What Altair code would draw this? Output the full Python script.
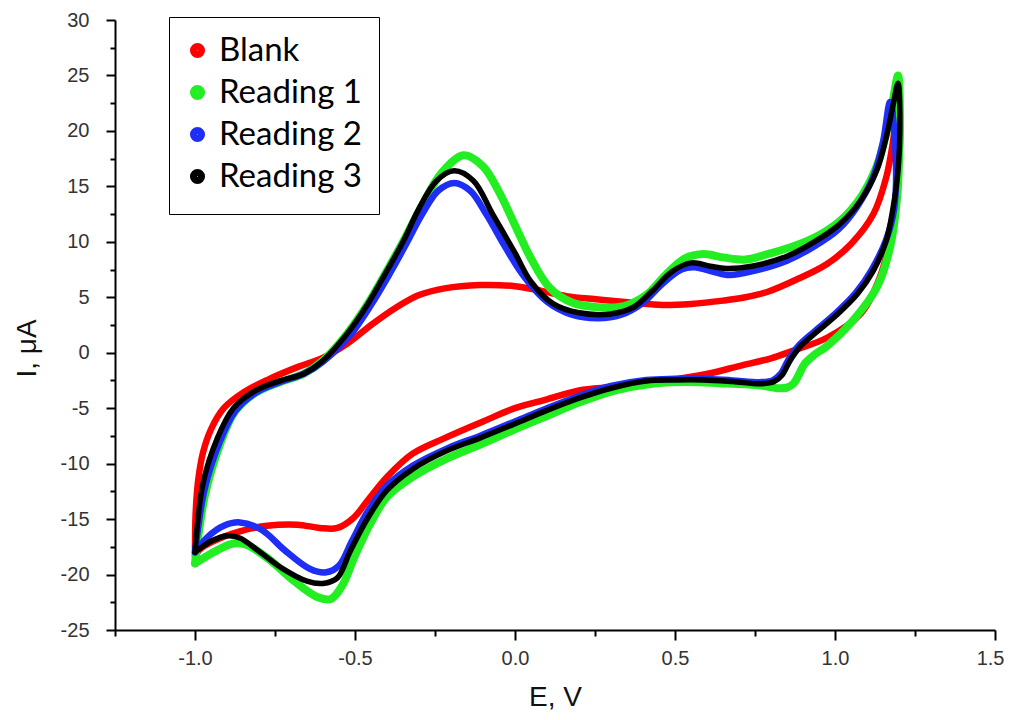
import altair as alt
import pandas as pd

# ---------------- data ----------------
SERIES = ["Blank", "Reading 1", "Reading 2", "Reading 3"]

E_BLANK = [-1.00, -0.998, -0.99, -0.975, -0.95, -0.91, -0.85, -0.77, -0.68, -0.60,
           -0.525, -0.445, -0.37, -0.30, -0.22, -0.11, 0.00, 0.08, 0.16, 0.26,
           0.37, 0.46, 0.55, 0.65, 0.72, 0.79, 0.88, 0.975, 1.05, 1.12,
           1.16, 1.18, 1.195, 1.20,
           1.203, 1.195, 1.18, 1.14, 1.08, 0.975, 0.87, 0.80, 0.70, 0.61,
           0.50, 0.41, 0.30, 0.20, 0.10, 0.00, -0.10, -0.22, -0.32, -0.40,
           -0.46, -0.505, -0.555, -0.61, -0.68, -0.775, -0.86, -0.92, -0.98, -1.00]
I_BLANK = [-18.3, -14.5, -11.5, -9.0, -6.9, -5.0, -3.6, -2.4, -1.3, -0.45,
           0.8, 2.6, 4.1, 5.2, 5.8, 6.1, 6.0, 5.6, 5.1, 4.8,
           4.5, 4.3, 4.4, 4.7, 5.0, 5.5, 6.6, 8.0, 9.8, 12.5,
           15.8, 18.8, 22.5, 23.6,
           19.0, 15.0, 11.3, 6.8, 3.5, 1.35, 0.2, -0.5, -1.2, -1.85,
           -2.4, -2.8, -3.1, -3.4, -4.2, -5.0, -6.2, -7.7, -9.1, -11.2,
           -13.3, -14.9, -15.8, -15.8, -15.5, -15.6, -16.1, -16.7, -17.6, -18.3]

E_R1 = [-1.00, -0.97, -0.925, -0.875, -0.81, -0.73, -0.66, -0.60, -0.525, -0.46,
        -0.40, -0.35, -0.29, -0.23, -0.16, -0.10, -0.05, 0.00, 0.05, 0.11,
        0.18, 0.26, 0.34, 0.41, 0.47, 0.53, 0.59, 0.65, 0.72, 0.79,
        0.87, 0.95, 1.02, 1.08, 1.13, 1.16, 1.18, 1.197,
        1.203, 1.20, 1.195, 1.172, 1.131, 1.056, 0.975, 0.935, 0.905, 0.885,
        0.87, 0.85, 0.82, 0.78, 0.72, 0.64, 0.55, 0.46, 0.38, 0.30,
        0.20, 0.10, 0.00, -0.11, -0.21, -0.32, -0.40, -0.45, -0.50, -0.54,
        -0.575, -0.62, -0.69, -0.77, -0.84, -0.88, -0.93, -1.00]
I_R1 = [-19.0, -13.0, -8.5, -5.3, -3.6, -2.6, -1.9, -0.7, 1.7, 4.4,
        7.4, 10.0, 13.3, 16.2, 17.8, 16.8, 14.5, 11.5, 8.5, 5.8,
        4.5, 4.1, 4.2, 5.2, 7.0, 8.5, 8.9, 8.6, 8.4, 8.9,
        9.6, 10.6, 12.0, 14.0, 16.8, 19.8, 22.6, 25.0,
        21.0, 17.5, 14.3, 9.5, 5.9, 2.9, 0.6, -0.2, -1.0, -2.1,
        -2.8, -3.15, -3.2, -3.0, -2.85, -2.75, -2.65, -2.7, -3.0, -3.5,
        -4.5, -5.7, -6.9, -8.3, -9.5, -11.2, -13.0, -15.3, -18.3, -21.0,
        -22.2, -22.0, -20.6, -18.6, -17.3, -17.2, -17.8, -19.0]

E_R2 = [-1.00, -0.97, -0.925, -0.875, -0.81, -0.73, -0.66, -0.60, -0.52, -0.45,
        -0.39, -0.34, -0.29, -0.24, -0.19, -0.14, -0.09, -0.03, 0.03, 0.10,
        0.18, 0.26, 0.33, 0.40, 0.46, 0.52, 0.56, 0.62, 0.67, 0.75,
        0.85, 0.93, 1.01, 1.07, 1.12, 1.15, 1.172,
        1.19, 1.185, 1.16, 1.115, 1.065, 1.00, 0.935, 0.885, 0.855, 0.83,
        0.805, 0.77, 0.68, 0.59, 0.50, 0.41, 0.30, 0.20, 0.10, 0.00,
        -0.11, -0.21, -0.32, -0.40, -0.46, -0.51, -0.55, -0.59, -0.64, -0.72,
        -0.79, -0.86, -0.91, -0.96, -1.00]
I_R2 = [-18.0, -12.3, -8.2, -5.3, -3.6, -2.6, -1.9, -0.8, 1.4, 4.3,
        7.2, 9.8, 12.5, 14.6, 15.3, 14.6, 12.5, 9.5, 6.8, 4.6,
        3.4, 3.1, 3.4, 4.5, 6.2, 7.5, 7.7, 7.3, 7.0, 7.4,
        8.3, 9.5, 11.1, 13.2, 15.9, 19.0, 22.6,
        17.5, 13.0, 10.2, 7.5, 5.4, 3.5, 1.9, 0.6, -0.6, -1.9,
        -2.5, -2.65, -2.5, -2.35, -2.35, -2.45, -3.0, -3.9, -5.0, -6.2,
        -7.5, -8.6, -10.2, -12.0, -14.3, -17.0, -19.2, -19.8, -19.5, -17.8,
        -16.0, -15.3, -15.6, -16.6, -18.0]

E_R3 = [-1.00, -0.975, -0.93, -0.88, -0.81, -0.73, -0.66, -0.60, -0.525, -0.46,
        -0.40, -0.35, -0.30, -0.245, -0.19, -0.13, -0.07, 0.00, 0.05, 0.12,
        0.20, 0.30, 0.37, 0.43, 0.49, 0.55, 0.61, 0.66, 0.74, 0.85,
        0.93, 1.015, 1.08, 1.13, 1.16, 1.18, 1.197,
        1.203, 1.197, 1.18, 1.16, 1.12, 1.07, 1.005, 0.94, 0.89, 0.86,
        0.835, 0.81, 0.77, 0.68, 0.59, 0.50, 0.41, 0.30, 0.20, 0.10,
        0.00, -0.11, -0.21, -0.32, -0.40, -0.46, -0.515, -0.555, -0.60, -0.65,
        -0.73, -0.80, -0.86, -0.90, -0.95, -1.00]
I_R3 = [-18.0, -11.8, -7.7, -5.0, -3.4, -2.5, -1.9, -0.7, 1.7, 4.4,
        7.4, 10.0, 13.0, 15.5, 16.4, 15.5, 12.5, 9.0, 6.4, 4.4,
        3.6, 3.5, 4.1, 5.6, 7.3, 8.1, 7.8, 7.6, 7.8, 8.7,
        9.9, 11.6, 13.7, 16.4, 19.4, 22.1, 24.3,
        20.3, 16.4, 12.8, 10.1, 7.4, 5.3, 3.4, 1.8, 0.5, -0.7,
        -2.0, -2.6, -2.8, -2.6, -2.45, -2.45, -2.55, -3.2, -4.1, -5.2,
        -6.4, -7.7, -8.8, -10.5, -12.4, -14.9, -17.9, -20.3, -20.8, -20.6,
        -19.4, -17.9, -16.7, -16.5, -17.0, -18.0]

X_TICKS = [-1.25, -1.0, -0.75, -0.5, -0.25, 0.0, 0.25, 0.5, 0.75, 1.0, 1.25, 1.5]
Y_TICKS = [-25, -22.5, -20, -17.5, -15, -12.5, -10, -7.5, -5, -2.5, 0, 2.5, 5,
           7.5, 10, 12.5, 15, 17.5, 20, 22.5, 25, 27.5, 30]

# ---------------- styles ----------------
COLORS = ["#ff0000", "#22ee22", "#1f2ef5", "#000000"]
WIDTHS = {"Blank": 6.5, "Reading 1": 8.0, "Reading 2": 6.5, "Reading 3": 5.5}
FONT = "Liberation Sans"

data = {
    "Blank": (E_BLANK, I_BLANK),
    "Reading 1": (E_R1, I_R1),
    "Reading 2": (E_R2, I_R2),
    "Reading 3": (E_R3, I_R3),
}

minor_x = "abs(datum.value*2 - round(datum.value*2)) > 0.01"
minor_y = "abs(datum.value/5 - round(datum.value/5)) > 0.01"

x_axis = alt.Axis(
    values=X_TICKS,
    title="E, V",
    labelExpr=f"{minor_x} ? '' : replace(format(datum.value, '.1f'), '\u2212', '-')",
    tickSize={"condition": {"test": minor_x, "value": 6}, "value": 10},
    labelOverlap=False,
    labelFlush=1,
    labelFlushOffset=9,
    labelPadding=8,
    titleX=440,
    titleY=75,
    titleFontSize=28,
    titleAlign="center",
    titleBaseline="alphabetic",
    grid=False,
)
y_axis = alt.Axis(
    values=Y_TICKS,
    title="I, \u03bcA",
    labelExpr=f"{minor_y} ? '' : replace(format(datum.value, 'd'), '\u2212', '-')",
    tickSize={"condition": {"test": minor_y, "value": 5}, "value": 9},
    labelOverlap=False,
    labelPadding=17,
    titleX=-80,
    titleY=328,
    titleFontSize=28,
    titleAlign="center",
    titleBaseline="alphabetic",
    titleAngle=270,
    grid=False,
)

x_scale = alt.Scale(domain=[-1.25, 1.5], nice=False, zero=False)
y_scale = alt.Scale(domain=[-25, 30], nice=False, zero=False)
color_scale = alt.Scale(domain=SERIES, range=COLORS)

layers = []
for name in SERIES:
    E, I = data[name]
    df = pd.DataFrame({"E": E, "I": I, "idx": list(range(len(E))), "Series": name})
    layers.append(
        alt.Chart(df)
        .mark_line(interpolate="catmull-rom", strokeWidth=WIDTHS[name],
                   strokeCap="round", strokeJoin="round")
        .encode(
            x=alt.X("E:Q", scale=x_scale, axis=x_axis),
            y=alt.Y("I:Q", scale=y_scale, axis=y_axis),
            order=alt.Order("idx:Q"),
            color=alt.Color(
                "Series:N",
                scale=color_scale,
                legend=alt.Legend(
                    title=None,
                    orient="none",
                    legendX=54,
                    legendY=-3,
                    symbolType="circle",
                    symbolSize=50,
                    symbolStrokeWidth=8,
                    symbolOffset=-5,
                    labelFont="Lato",
                    labelFontSize=33,
                    labelColor="#000000",
                    labelOffset=5,
                    labelLimit=400,
                    rowPadding=1,
                    padding=17,
                    strokeColor="#000000",
                    fillColor="#ffffff",
                    cornerRadius=0,
                ),
            ),
        )
    )

chart = (
    alt.layer(*layers)
    .properties(
        width=880,
        height=610,
        padding={"left": 107, "top": 12, "right": 9, "bottom": 82},
        autosize=alt.AutoSizeParams(type="none"),
        background="#ffffff",
    )
    .configure_view(stroke=None)
    .configure_axis(
        domainColor="#000000",
        domainWidth=2,
        tickColor="#000000",
        tickWidth=2,
        labelFont=FONT,
        labelFontSize=20,
        labelColor="#333333",
        titleFont=FONT,
        titleFontWeight="normal",
        titleColor="#111111",
    )
)

chart.save("out.html", embed_options={"renderer": "svg", "actions": False})
